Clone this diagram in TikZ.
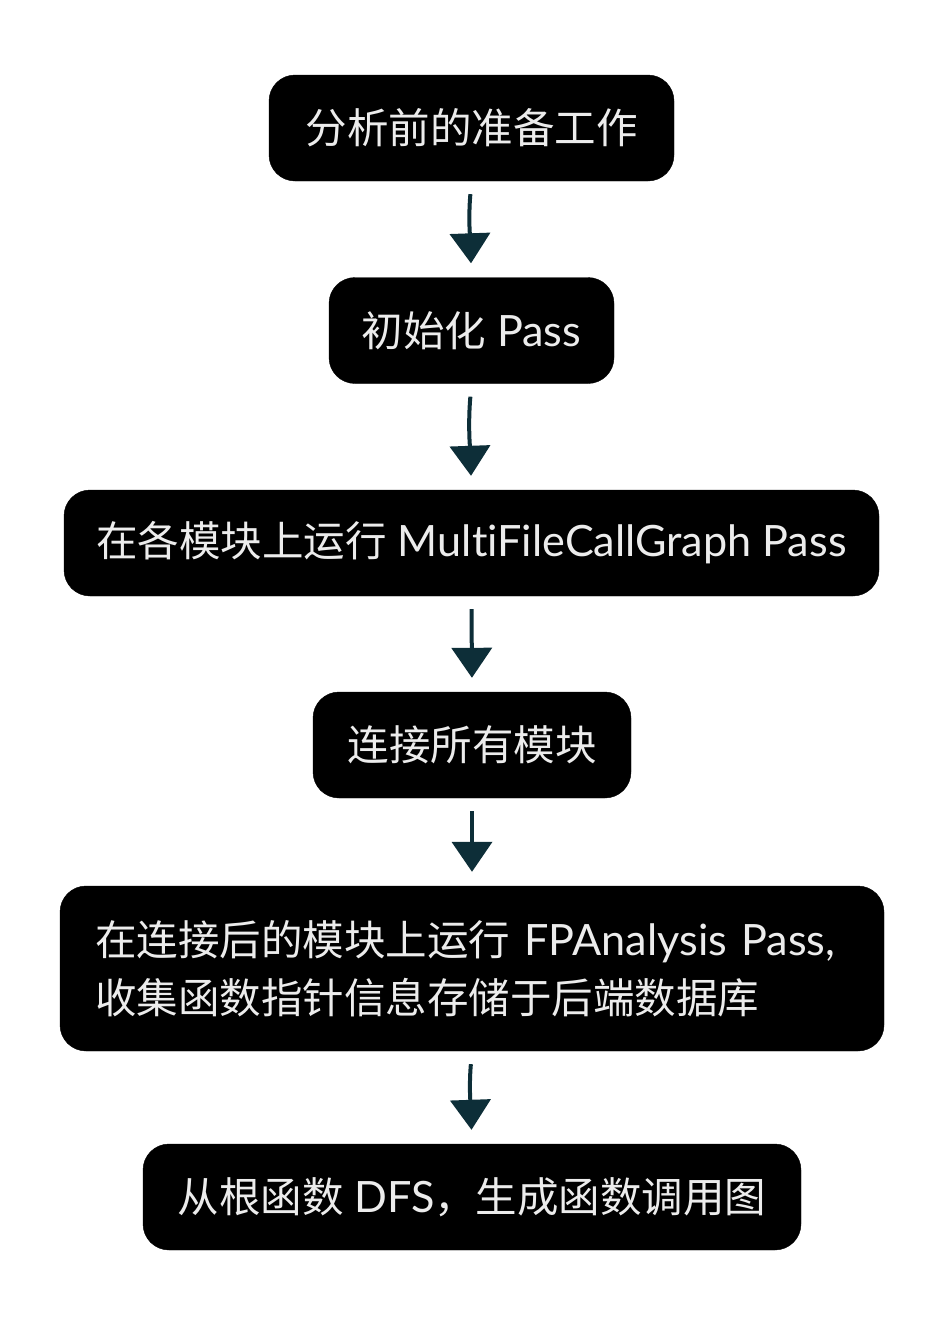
\documentclass[tikz,border=0pt]{standalone}
\usepackage{fontspec}
\setmainfont{Lato}[Scale=1.04,Ligatures=NoCommon]
\newfontfamily\cjk{Noto Sans CJK SC}
\usetikzlibrary{arrows.meta}
\definecolor{arrc}{HTML}{0D2E38}
\definecolor{txt}{RGB}{236,236,236}
\tikzset{
  box/.style={draw=black, fill=black, rounded corners=26pt, text=txt, inner sep=0pt,
    font=\fontsize{41.5pt}{58pt}\selectfont, minimum height=106pt},
  arr/.style={draw=arrc, line width=4pt, -{Triangle[width=40pt,length=30pt]}, shorten <=13pt, shorten >=14pt}
}
\begin{document}
\begin{tikzpicture}[x=1pt,y=-1pt]
\useasboundingbox (0,0) rectangle (930,1320);
\node[box, minimum width=405pt] (b1) at (471.5,128) {\cjk 分析前的准备工作};
\node[box, minimum width=285pt] (b2) at (471.5,330.5) {{\cjk 初始化} Pass};
\node[box, minimum width=815pt] (b3) at (471.5,543) {{\cjk 在各模块上运行} MultiFileCallGraph Pass};
\node[box, minimum width=318pt] (b4) at (472,745) {\cjk 连接所有模块};
\node[box, minimum height=165pt, text width=754pt, inner xsep=35pt, align=left] (b5) at (472,968.5)
  {{\cjk 在连接后的模块上运行} FPAnalysis Pass,\\{\cjk 收集函数指针信息存储于后端数据库}};
\node[box, minimum width=658pt] (b6) at (472,1197) {{\cjk 从根函数} DFS{\cjk ，生成函数调用图}};
\draw[arr] (b1.south) to[out=265,in=92] (b2.north);
\draw[arr] (b2.south) to[out=265,in=92] (b3.north);
\draw[arr] (b3.south) -- (b4.north);
\draw[arr] (b4.south) -- (b5.north);
\draw[arr] (b5.south) to[out=265,in=92] (b6.north);
\end{tikzpicture}
\end{document}
